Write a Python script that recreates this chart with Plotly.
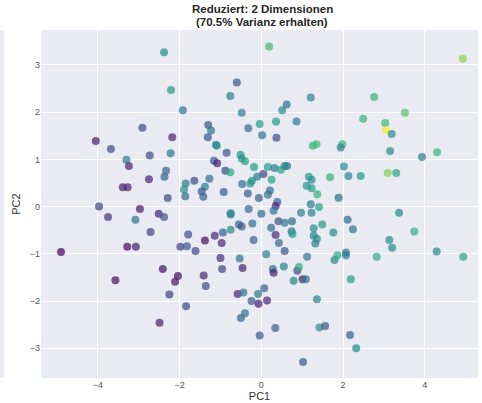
import plotly.graph_objects as go

# PC1, PC2 coordinates and colour value (target, 0..1) per point
pc1 = [-2.38, -2.21, -1.92, -2.91, -4.05, -2.18, -3.68, -2.73, -2.22, -3.30,
       -3.24, -2.33, -2.37, -2.75, -3.39, -3.27, -1.85, -1.89, -1.86, -2.29,
       -3.97, -2.97, -3.75, -3.08, -2.51, -2.38, -2.71, -1.79, -4.90, -3.28,
       -3.07, -1.98, -1.82, -2.41, -3.57, -2.04, -2.11, -2.25, -1.84, -2.49,
       0.19, -0.60, -0.76, -0.48, 1.21, 0.62, 0.51, -0.04, 0.36, 0.86,
       -0.32, 0.02, 0.37, -1.30, -1.23, -1.31, -1.11, -1.09, -0.85, 1.26,
       1.35, -0.51, -0.48, -0.40, -1.16, -1.08, -0.88, -0.76, -0.18, 0.16,
       0.32, 0.48, 0.57, 0.63, 0.05, -0.10, -0.23, -0.27, -0.47, 0.25,
       1.16, 1.23, 1.68, 1.11, 1.23, 1.37, 1.21, 1.41, -1.64, -1.27,
       -1.38, -1.46, -1.42, -0.92, -0.33, -0.06, 0.16, 0.21, 0.39, 0.35,
       -0.31, -0.75, -0.75, 0.00, 0.30, 0.97, 1.23, -1.38, -1.14, -0.97,
       -0.94, -0.75, -0.55, -0.48, -0.22, -0.19, 0.24, 0.42, 0.57, 0.75,
       0.74, 0.76, 0.35, 0.43, 0.57, 0.12, 1.28, 1.49, 1.28, 1.36,
       1.32, 1.76, 1.12, 1.79, -1.61, -1.00, -0.96, -0.53, -0.46, 0.28,
       0.30, 0.55, 0.88, 0.92, 0.79, 1.01, 1.09, -1.41, -1.36, -0.58,
       -0.44, -0.08, 0.07, -0.24, -0.07, 0.14, -0.40, -0.50, 0.34, -0.04,
       1.36, 1.42, 1.56, 1.02,
       4.93, 2.76, 3.51, 2.49, 3.03, 3.06, 3.19, 1.98, 1.94, 3.15,
       3.93, 4.30, 2.02, 2.13, 2.43, 3.09, 3.30, 1.89, 3.37, 2.11,
       2.24, 3.74, 3.13, 3.20, 2.07, 2.07, 1.86, 2.82, 4.29, 4.94,
       2.19, 2.17, 2.32]

pc2 = [3.27, 2.47, 2.04, 1.67, 1.39, 1.47, 1.22, 1.08, 1.13, 0.99,
       0.86, 0.76, 0.63, 0.58, 0.41, 0.41, 0.49, 0.36, 0.22, 0.18,
       0.00, -0.05, -0.22, -0.28, -0.15, -0.22, -0.54, -0.59, -0.96, -0.85,
       -0.85, -0.85, -0.84, -1.32, -1.56, -1.47, -1.59, -1.86, -2.11, -2.46,
       3.39, 2.63, 2.34, 1.99, 2.31, 2.16, 2.04, 1.75, 1.80, 1.80,
       1.66, 1.51, 1.46, 1.73, 1.61, 1.47, 1.31, 1.29, 1.14, 1.29,
       1.32, 1.10, 1.02, 0.96, 0.97, 0.92, 0.76, 0.73, 0.84, 0.84,
       0.82, 0.78, 0.86, 0.86, 0.69, 0.63, 0.55, 0.49, 0.48, 0.57,
       0.63, 0.57, 0.62, 0.44, 0.39, 0.26, 0.05, -0.01, 0.55, 0.59,
       0.42, 0.32, 0.21, 0.31, 0.28, 0.18, 0.25, 0.34, 0.10, 0.01,
       -0.05, -0.14, -0.17, -0.15, -0.09, -0.13, -0.13, -0.72, -0.62, -0.77,
       -0.55, -0.49, -0.38, -0.42, -0.36, -0.71, -0.45, -0.31, -0.34, -0.31,
       -0.52, -0.58, -0.60, -0.77, -0.94, -1.01, -0.46, -0.38, -0.62, -0.68,
       -0.78, -0.55, -1.06, -1.13, -0.94, -1.09, -1.32, -1.10, -1.30, -1.32,
       -1.40, -1.27, -1.36, -1.28, -1.57, -1.54, -1.54, -1.46, -1.68, -1.85,
       -1.82, -1.85, -1.73, -2.00, -2.06, -1.99, -2.26, -2.36, -2.57, -2.73,
       -1.96, -2.56, -2.53, -3.29,
       3.13, 2.32, 1.99, 1.86, 1.77, 1.62, 1.54, 1.32, 1.25, 1.18,
       1.05, 1.15, 0.85, 0.65, 0.65, 0.71, 0.71, 0.19, -0.13, -0.28,
       -0.48, -0.53, -0.71, -0.87, -0.97, -1.03, -1.03, -1.06, -0.95, -1.06,
       -1.54, -2.72, -3.00]

target = [0.48, 0.55, 0.38, 0.22, 0.08, 0.10, 0.22, 0.22, 0.40, 0.42,
          0.10, 0.32, 0.32, 0.10, 0.08, 0.10, 0.42, 0.50, 0.36, 0.22,
          0.20, 0.06, 0.15, 0.40, 0.10, 0.25, 0.20, 0.25, 0.00, 0.03,
          0.08, 0.20, 0.28, 0.05, 0.03, 0.02, 0.06, 0.20, 0.22, 0.08,
          0.68, 0.28, 0.45, 0.45, 0.45, 0.38, 0.48, 0.55, 0.55, 0.40,
          0.35, 0.38, 0.22, 0.28, 0.42, 0.25, 0.45, 0.48, 0.28, 0.65,
          0.68, 0.55, 0.50, 0.57, 0.28, 0.10, 0.22, 0.60, 0.57, 0.57,
          0.42, 0.57, 0.48, 0.40, 0.22, 0.40, 0.50, 0.50, 0.35, 0.57,
          0.55, 0.48, 0.65, 0.50, 0.55, 0.65, 0.40, 0.57, 0.25, 0.35,
          0.45, 0.28, 0.30, 0.28, 0.28, 0.30, 0.40, 0.36, 0.30, 0.10,
          0.36, 0.42, 0.45, 0.36, 0.40, 0.45, 0.45, 0.03, 0.12, 0.12,
          0.30, 0.48, 0.30, 0.28, 0.36, 0.30, 0.36, 0.25, 0.40, 0.36,
          0.42, 0.55, 0.12, 0.36, 0.28, 0.45, 0.48, 0.55, 0.45, 0.48,
          0.45, 0.48, 0.40, 0.48, 0.22, 0.12, 0.20, 0.38, 0.10, 0.36,
          0.10, 0.45, 0.22, 0.62, 0.45, 0.08, 0.42, 0.10, 0.22, 0.10,
          0.38, 0.40, 0.30, 0.28, 0.08, 0.10, 0.40, 0.30, 0.30, 0.28,
          0.45, 0.50, 0.28, 0.28,
          0.82, 0.66, 0.72, 0.66, 0.68, 1.00, 0.48, 0.66, 0.45, 0.48,
          0.45, 0.66, 0.50, 0.45, 0.55, 0.80, 0.60, 0.36, 0.48, 0.36,
          0.38, 0.63, 0.48, 0.48, 0.45, 0.42, 0.62, 0.62, 0.48, 0.60,
          0.55, 0.30, 0.48]

x_ticks = [-4, -2, 0, 2, 4]
y_ticks = [-3, -2, -1, 0, 1, 2, 3]
title_lines = ["Reduziert: 2 Dimensionen", "(70.5% Varianz erhalten)"]

FONT = "Liberation Sans, Arial, sans-serif"

fig = go.Figure()
fig.add_trace(go.Scatter(
    x=pc1, y=pc2, mode="markers",
    marker=dict(size=8, color=target, colorscale="Viridis", cmin=0, cmax=1,
                opacity=0.7, line=dict(width=0)),
    showlegend=False, hoverinfo="x+y",
))

title_annots = []
for i, line in enumerate(title_lines):
    title_annots.append(dict(
        text="<b>" + line + "</b>", xref="paper", yref="paper", x=0.506, y=1.0,
        xanchor="center", yanchor="bottom", yshift=13 * (len(title_lines) - 1 - i),
        showarrow=False, font=dict(size=11.5, color="#262626", family=FONT),
    ))

fig.update_layout(
    width=482, height=403,
    margin=dict(l=41, r=4, t=30, b=25, autoexpand=False),
    paper_bgcolor="white",
    plot_bgcolor="#EAEAF2",
    font=dict(family=FONT, color="#333333"),
    annotations=title_annots,
    shapes=[dict(type="rect", xref="paper", yref="paper",
                 x0=-0.094, x1=-0.085, y0=0.0, y1=1.0,
                 fillcolor="#EAEAF2", line=dict(width=0), layer="below")],
)
fig.update_xaxes(
    range=[-5.39, 5.30], tickvals=x_ticks, showgrid=True, gridcolor="white",
    gridwidth=1, zeroline=False, showline=False, ticks="", automargin=False,
    tickfont=dict(size=9, color="#555555"),
    title=dict(text="PC1", font=dict(size=11, color="#333333"), standoff=2),
)
fig.update_yaxes(
    range=[-3.63, 3.74], tickvals=y_ticks, showgrid=True, gridcolor="white",
    gridwidth=1, zeroline=False, showline=False, ticks="", automargin=False,
    tickfont=dict(size=9, color="#555555"),
    title=dict(text="PC2", font=dict(size=11, color="#333333"), standoff=6),
)

fig.write_html("out.html", config={"displayModeBar": False},
               post_script="document.body.style.margin='0';")
